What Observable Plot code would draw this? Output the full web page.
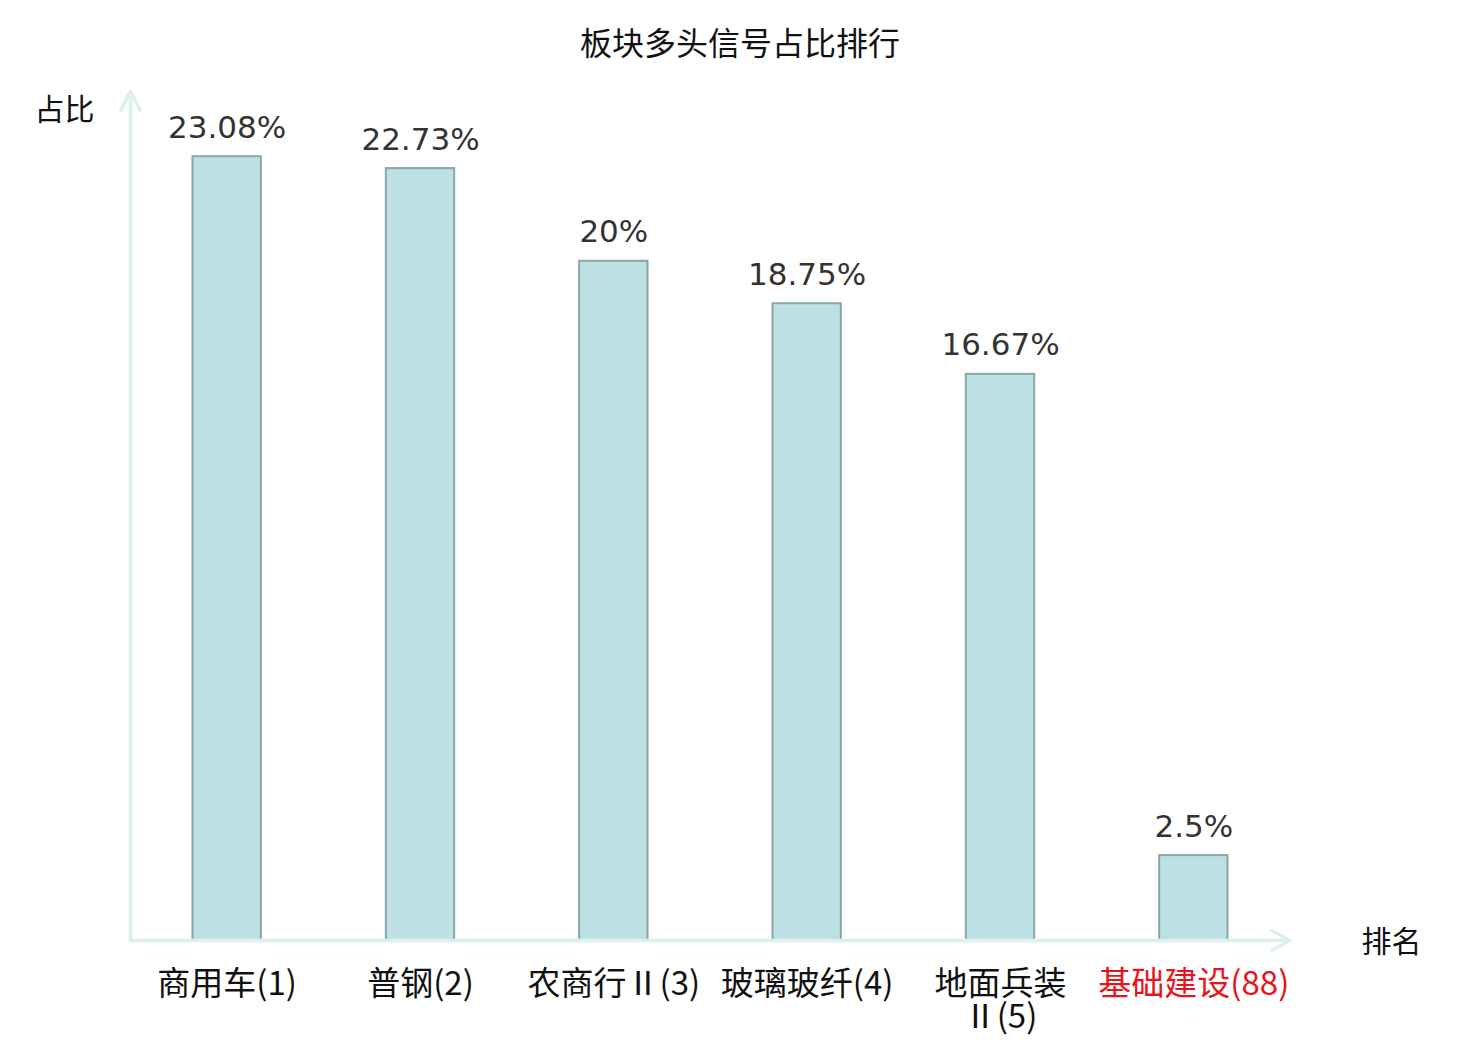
<!DOCTYPE html>
<html><head><meta charset="utf-8">
<script src="https://cdn.jsdelivr.net/npm/d3@7"></script>
<script src="https://cdn.jsdelivr.net/npm/@observablehq/plot@0.6"></script>
<style>
body{margin:0;background:#fff;width:1480px;height:1040px;overflow:hidden}
#title{height:84px;line-height:82px;text-align:center;font-size:32px;font-family:"Noto Sans CJK SC";color:#111}
#chart svg{overflow:visible;display:block}
</style></head><body>
<div id="title">板块多头信号占比排行</div>
<div id="chart"></div>
<script>
const categories = ["商用车(1)", "普钢(2)", "农商行Ⅱ(3)", "玻璃玻纤(4)", "地面兵装\nⅡ(5)", "基础建设(88)"];
const shares = [23.08, 22.73, 20, 18.75, 16.67, 2.5];
const valueLabels = ["23.08%", "22.73%", "20%", "18.75%", "16.67%", "2.5%"];
const highlighted = [false, false, false, false, false, true];
const yMax = 25;
const yAxisName = "占比";
const xAxisName = "排名";

const data = categories.map((c, i) => ({i, label: c, value: shares[i], text: valueLabels[i], hi: highlighted[i]}));
const n = categories.length;
const axisColor = "#dcf1ee";

const chart = Plot.plot({
  width: 1480,
  height: 956,
  marginLeft: 130,
  marginRight: 190,
  marginTop: 7,
  marginBottom: 100,
  x: {domain: [0, n], axis: null},
  y: {domain: [0, yMax], axis: null},
  style: {background: "transparent"},
  marks: [
    Plot.rectY(data, {
      x1: "i", x2: d => d.i + 1, y1: 0, y2: "value",
      insetLeft: 62.5, insetRight: 62.5,
      fill: "#bce0e3", stroke: "#8aa6a7", strokeWidth: 2
    }),
    Plot.arrow([0], {x1: 0, x2: n, y1: 0, y2: 0, stroke: axisColor, strokeWidth: 3.5, headLength: 9, headAngle: 55}),
    Plot.arrow([0], {x1: 0, x2: 0, y1: 0, y2: yMax, stroke: axisColor, strokeWidth: 3.5, headLength: 9, headAngle: 55}),
    Plot.text(data, {
      x: d => d.i + 0.5, y: "value", text: "text",
      lineAnchor: "middle", dy: -29,
      fontSize: 31, fontFamily: "DejaVu Sans", fill: "#333"
    }),
    Plot.text(data, {
      x: d => d.i + 0.5, y: 0, text: "label",
      lineAnchor: "top", dy: 31, lineHeight: 1.0,
      fontSize: 33, fontFamily: "Noto Sans CJK SC",
      fill: d => d.hi ? "#e8141a" : "#111"
    }),
    Plot.text([yAxisName], {
      frameAnchor: "top-left", text: d => d, textAnchor: "middle", lineAnchor: "middle",
      dx: -66, dy: 19, fontSize: 30, fontFamily: "Noto Sans CJK SC", fill: "#111"
    }),
    Plot.text([xAxisName], {
      frameAnchor: "bottom-right", text: d => d, textAnchor: "middle", lineAnchor: "middle",
      dx: 101, dy: 2, fontSize: 30, fontFamily: "Noto Sans CJK SC", fill: "#111"
    })
  ]
});
document.getElementById("chart").appendChild(chart);
</script>
</body></html>
